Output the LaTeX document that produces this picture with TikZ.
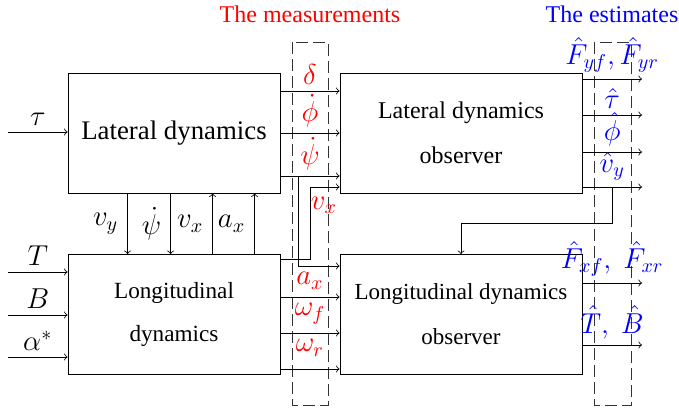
\documentclass[tikz,border=0pt]{standalone}
\usepackage{fontspec}
\setmainfont{Liberation Serif}
\usepackage{amsmath}
\usetikzlibrary{positioning,calc}

\begin{document}
\begin{tikzpicture}[x=0.5pt, y=-0.5pt,
    block/.style={rectangle, draw, minimum width=106pt, minimum height=60pt, align=center, inner sep=0pt},
    obsblock/.style={block, minimum width=121pt},
    sig/.style={font=\fontsize{14.4}{17}\selectfont, inner sep=3pt},
    meas/.style={sig, text=red},
    est/.style={sig, text=blue},
    frame/.style={draw=black!80, dash pattern=on 6pt off 2.5pt}]
    \useasboundingbox (0,0) rectangle (679,412);

    % dashed frames
    \draw[frame] (292,42) rectangle (328,405);
    \draw[frame] (594,42) rectangle (631,405);
    \node[text=red, font=\fontsize{12}{14}\selectfont] (meastitle) at (310,14) {The measurements};
    \node[text=blue, font=\fontsize{12}{14}\selectfont] (esttitle) at (612,14) {The estimates};

    % blocks
    \node[block, font=\fontsize{13.4}{16}\selectfont] (lat) at (174,133) {Lateral dynamics};
    \node[block, font=\fontsize{11.6}{21.5}\selectfont] (lon) at (174,314.5) {Longitudinal\\dynamics};
    \node[obsblock, font=\fontsize{12}{22.5}\selectfont] (latobs) at (461,133) {Lateral dynamics\\observer};
    \node[obsblock, font=\fontsize{11.5}{22.5}\selectfont] (lonobs) at (461,314.5) {Longitudinal dynamics\\observer};

    % inputs
    \coordinate (tauin) at (8,132);
    \draw[->] (tauin) -- node[sig, above] {$\tau$} (tauin -| lat.west);
    \foreach \y/\lab in {272/T, 315/B, 357/\alpha^*}{
        \draw[->] (8,\y) -- node[sig, above] {$\lab$} (lon.west |- 0,\y);
    }

    % coupling between the two models
    \foreach \dx/\lab in {60/v_y, 103/\dot\psi}
        \draw[->] ($(lat.south west)+(\dx,0)$) -- node[sig, left=1.5pt] {$\lab$} ($(lon.north west)+(\dx,0)$);
    \foreach \dx/\lab in {145/v_x, 187/a_x}
        \draw[<-] ($(lat.south west)+(\dx,0)$) -- node[sig, left=1.5pt] {$\lab$} ($(lon.north west)+(\dx,0)$);

    % measurements
    \foreach \y/\lab in {91/\delta, 133/\dot\phi, 176/\dot\psi}
        \draw[->] (lat.east |- 0,\y) -- node[meas, above] {$\lab$} (latobs.west |- 0,\y);
    \coordinate (vxup) at (310,187);
    \draw[->] (lon.east |- 0,259) -| (vxup) -- (latobs.west |- 0,187);
    \node[meas] (vxlab) at (324,205) {$v_x$};
    \coordinate (axdown) at (298,176);
    \draw[->] (axdown) |- (lonobs.west |- 0,266);
    \node[meas, below] (axlab) at (310,266) {$a_x$};
    \foreach \y/\lab in {297/\omega_f, 333/\omega_r}
        \draw[->] (lon.east |- 0,\y) -- node[meas, below] {$\lab$} (lonobs.west |- 0,\y);
    \draw[->] (lon.east |- 0,369) -- (lonobs.west |- 0,369);

    % estimates
    \foreach \y/\lab in {79/{\hat F_{yf},\hat F_{yr}}, 115/\hat\tau, 152/\hat\phi}
        \draw[->] (latobs.east |- 0,\y) -- node[est, above] {$\lab$} (642,\y);
    \draw[->] (latobs.east |- 0,187) -- node[est, above] (vyhat) {$\hat v_y$} (642,187);
    \draw[->] (vyhat.south) -- (vyhat.south |- 0,223) -| (lonobs.north);
    \foreach \y/\lab in {283/{\hat F_{xf},\ \hat F_{xr}}, 345/{\hat T,\ \hat B}}
        \draw[->] (lonobs.east |- 0,\y) -- node[est, above] {$\lab$} (642,\y);
\end{tikzpicture}
\end{document}
